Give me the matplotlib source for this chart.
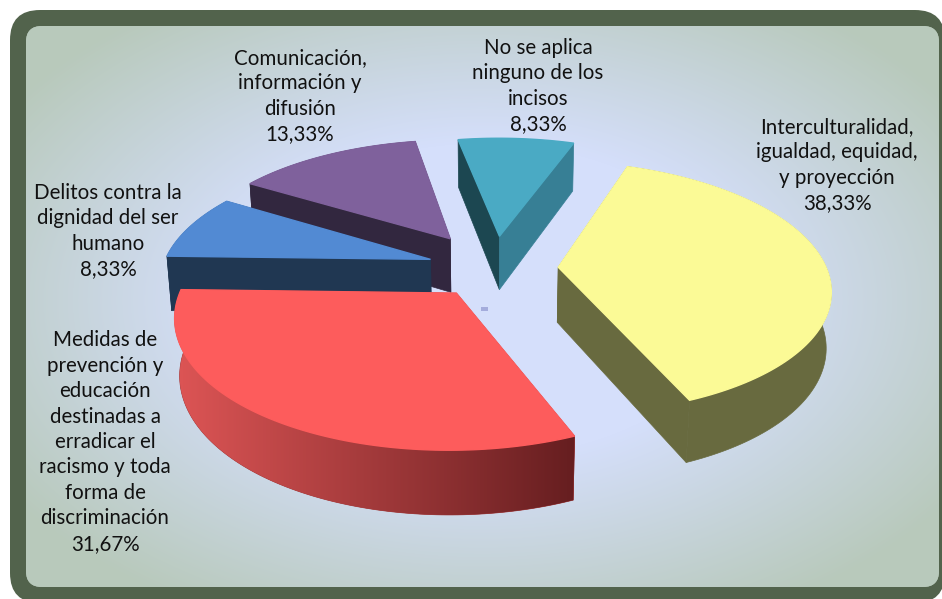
import numpy as np
import matplotlib
matplotlib.use("Agg")
import matplotlib.pyplot as plt
from matplotlib.patches import FancyBboxPatch, Polygon, Rectangle

plt.rcParams['font.family'] = ['Lato', 'DejaVu Sans']

# datos, en sentido horario desde el amarillo
names = [
    "Interculturalidad,\nigualdad, equidad,\ny proyección",
    "Medidas de\nprevención y\neducación\ndestinadas a\nerradicar el\nracismo y toda\nforma de\ndiscriminación",
    "Delitos contra la\ndignidad del ser\nhumano",
    "Comunicación,\ninformación y\ndifusión",
    "No se aplica\nninguno de los\nincisos",
]
values = [38.33, 31.67, 8.33, 13.33, 8.33]

top_colors = ["#fbfa96", "#fd5c5c", "#528ad3", "#7f619c", "#4aaac4"]
side_colors = ["#686a3f", "#a03535", "#203752", "#32273f", "#377f95"]
start_face = ["#686a3f", "#6a1f20", "#203752", "#32273f", "#1c4751"]
end_face = ["#686a3f", "#a03535", "#203752", "#32273f", "#377f95"]
explode = [0.24, 0.24, 0.25, 0.30, 0.27]
label_xy = [(837, 165), (105, 442), (108, 231), (300, 96), (538, 86)]

# proyeccion del disco
CX, CY = 494, 268
RX, RY = 268, 123
K = 0.16
DEPTH = 56
LOW_SHRINK = 0.015
START = 70.5


def project(u, v, low=False):
    d = 1 + K * v
    if low:
        d = d + LOW_SHRINK
        return CX + RX * u / d, CY + (-RY * v + DEPTH) / d
    return CX + RX * u / d, CY - RY * v / d


def quad(a, b):
    # cara vertical entre dos puntos del disco
    p = [project(*a), project(*b), project(*b, low=True), project(*a, low=True)]
    return np.array(p)


fig = plt.figure(figsize=(9.42, 5.99), dpi=100)
ax = fig.add_axes([0, 0, 1, 1])
ax.set_xlim(0, 942)
ax.set_ylim(599, 0)
ax.axis("off")

# marco y fondo
frame = FancyBboxPatch((10 + 30, 10 + 30), 945 - 10 - 60, 603 - 10 - 60,
                       boxstyle="round,pad=30,rounding_size=30", fc="#52634c", ec="none")
ax.add_patch(frame)
inner = FancyBboxPatch((26 + 16, 26 + 16), 939 - 26 - 32, 587 - 26 - 32,
                       boxstyle="round,pad=16,rounding_size=16", fc="#b8c9bb", ec="none")
ax.add_patch(inner)

yy, xx = np.mgrid[26:588, 26:940]
r = np.hypot((xx - 482) / 455, (yy - 300) / 285)
dist = np.clip((r - 0.55) / 0.7, 0, 1)
c0 = np.array([0xd5, 0xdf, 0xfb]) / 255
c1 = np.array([0xb8, 0xc9, 0xbb]) / 255
bg = c0 + (c1 - c0) * dist[..., None]
im = ax.imshow(bg, extent=(26, 940, 588, 26), aspect="auto", zorder=1)
im.set_clip_path(inner)
ax.set_xlim(0, 942)
ax.set_ylim(599, 0)

ax.add_patch(Rectangle((481, 307), 7, 4, fc="#a4acdc", ec="none", zorder=2))

# porciones
fractions = np.array(values) / np.sum(values)
spans = fractions * 360
ends = START - np.cumsum(spans)
starts = ends + spans
draw_order = [4, 3, 2, 1, 0]

for n, i in enumerate(draw_order):
    z = 3 + n
    mid = np.radians((starts[i] + ends[i]) / 2)
    tip = (explode[i] * np.cos(mid), explode[i] * np.sin(mid))
    th = np.radians(np.linspace(starts[i], ends[i], 120))
    rim = np.column_stack([tip[0] + np.cos(th), tip[1] + np.sin(th)])

    top = [project(*tip)] + [project(*p) for p in rim]
    low = [project(*p, low=True) for p in rim]
    upper = [project(*p) for p in rim]
    side = np.array(upper + low[::-1])

    ax.add_patch(Polygon(quad(tip, rim[0]), fc=start_face[i], ec=start_face[i], lw=0.5, zorder=z))
    ax.add_patch(Polygon(quad(tip, rim[-1]), fc=end_face[i], ec=end_face[i], lw=0.5, zorder=z))
    # el lateral del turquesa queda oculto
    if i != 4:
        sp = Polygon(side, fc=side_colors[i], ec=side_colors[i], lw=0.5, zorder=z)
        ax.add_patch(sp)

    if i == 1:
        # degradado del lateral rojo
        grad = np.linspace(0, 1, 256)[None, :, None]
        left = np.array([0xdd, 0x55, 0x55]) / 255
        right = np.array([0x66, 0x1e, 0x20]) / 255
        x0, x1 = side[:, 0].min(), side[:, 0].max()
        y0, y1 = side[:, 1].min(), side[:, 1].max()
        g = ax.imshow(left + (right - left) * grad, extent=(x0, x1, y1, y0),
                      aspect="auto", zorder=z)
        g.set_clip_path(sp)
        ax.set_xlim(0, 942)
        ax.set_ylim(599, 0)

    ax.add_patch(Polygon(top, fc=top_colors[i], ec=top_colors[i], lw=1.0, zorder=z + 0.5))

# etiquetas
for name, val, (x, y) in zip(names, values, label_xy):
    txt = name + "\n" + f"{val:.2f}".replace(".", ",") + "%"
    ax.text(x, y, txt, ha="center", va="center", fontsize=14.8, color="#111111",
            linespacing=1.34, zorder=20)

fig.savefig("out.png", dpi=100, facecolor="white")
